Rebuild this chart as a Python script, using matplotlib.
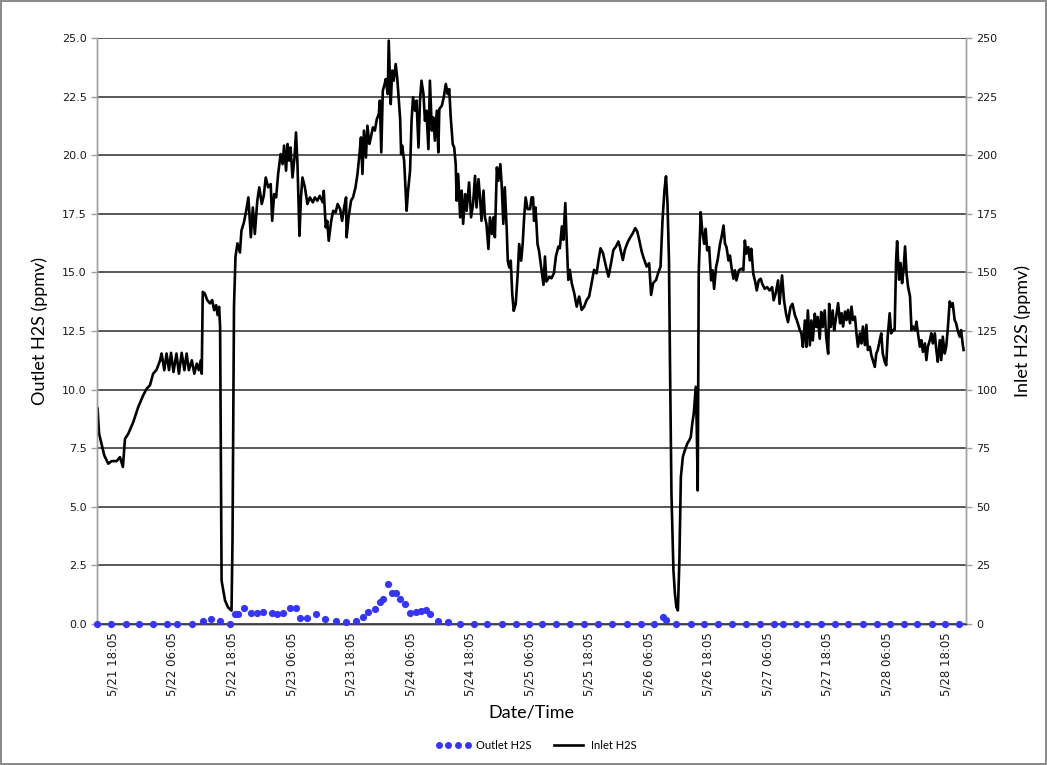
import matplotlib
matplotlib.use('Agg')
import matplotlib.pyplot as plt
from matplotlib.lines import Line2D
from matplotlib.ticker import FormatStrFormatter, MultipleLocator


# style setting
plt.rcParams['font.family'] = 'DejaVu Sans'
plt.rcParams['font.size'] = 8
plt.rcParams['axes.linewidth'] = 1.0

LABEL_FONT = 'Lato'
GRID_COLOR = '#3c3c3c'
DOT_COLOR = '#3535ff'

# hours after 5/21 18:05
tick_hours = [0, 12, 24, 36, 48, 60, 72, 84, 96, 108, 120, 132, 144, 156, 168]
tick_labels = ['5/21 18:05', '5/22 06:05', '5/22 18:05', '5/23 06:05',
               '5/23 18:05', '5/24 06:05', '5/24 18:05', '5/25 06:05',
               '5/25 18:05', '5/26 06:05', '5/26 18:05', '5/27 06:05',
               '5/27 18:05', '5/28 06:05', '5/28 18:05']

# outlet H2S, ppmv (left axis)
outlet_hours = [-3.2, -0.3, 2.6, 5.3, 8.1, 10.9, 13.0, 15.9, 18.1, 19.8,
                21.6, 23.5, 24.6, 25.3, 26.5, 27.8, 29.0, 30.3, 32.0, 33.0,
                34.2, 35.7, 36.9, 37.7, 39.1, 40.9, 42.7, 44.9, 47.0, 48.9,
                50.5, 51.5, 52.8, 53.8, 54.5, 55.5, 56.2, 57.1, 57.9, 58.9,
                59.9, 61.1, 62.2, 63.2, 64.0, 65.6, 67.6, 70.0, 72.8, 75.5,
                78.4, 81.2, 83.9, 86.6, 89.4, 92.1, 95.0, 97.8, 100.7, 103.6,
                106.4, 109.1, 110.8, 111.6, 113.6, 116.5, 119.2, 122.0, 124.9, 127.6,
                130.4, 133.3, 135.1, 137.8, 139.9, 142.7, 145.6, 148.2, 151.2, 154.0,
                156.7, 159.5, 162.2, 165.1, 167.7, 170.6]
outlet_ppmv = [0.0, 0.0, 0.0, 0.0, 0.0, 0.0, 0.0, 0.0, 0.14, 0.2,
               0.14, 0.0, 0.41, 0.41, 0.67, 0.48, 0.48, 0.53, 0.46, 0.43,
               0.46, 0.67, 0.67, 0.27, 0.24, 0.41, 0.21, 0.14, 0.1, 0.14,
               0.31, 0.53, 0.63, 0.95, 1.05, 1.71, 1.34, 1.34, 1.05, 0.85,
               0.48, 0.53, 0.57, 0.6, 0.41, 0.14, 0.1, 0.0, 0.0, 0.0,
               0.0, 0.0, 0.0, 0.0, 0.0, 0.0, 0.0, 0.0, 0.0, 0.0,
               0.0, 0.0, 0.3, 0.15, 0.0, 0.0, 0.0, 0.0, 0.0, 0.0,
               0.0, 0.0, 0.0, 0.0, 0.0, 0.0, 0.0, 0.0, 0.0, 0.0,
               0.0, 0.0, 0.0, 0.0, 0.0, 0.0]

# inlet H2S, ppmv (right axis)
inlet_hours = [
    -3.1, -2.8, -2.4, -1.75, -0.95, -0.27, 0.74, 1.41, 2.0, 2.42,
    3.09, 4.1, 5.1, 6.1, 6.8, 7.46, 8.1, 8.8, 9.5, 9.8,
    10.35, 10.8, 11.3, 11.7, 12.2, 12.8, 13.3, 13.85, 14.4, 14.85,
    15.3, 15.9, 16.4, 16.9, 17.3, 17.7, 17.9, 18.1, 18.5, 19.0,
    19.55, 20.0, 20.4, 20.8, 21.1, 21.4, 21.6, 21.7, 21.9, 22.6,
    23.2, 23.9, 24.1, 24.4, 24.7, 25.1, 25.6, 25.9, 26.4, 26.8,
    27.3, 27.8, 28.2, 28.6, 29.1, 29.5, 30.0, 30.4, 30.8, 31.3,
    31.8, 32.1, 32.5, 32.9, 33.3, 33.8, 34.2, 34.5, 34.9, 35.2,
    35.5, 35.8, 36.2, 36.6, 36.9, 37.2, 37.6, 37.9, 38.2, 38.7,
    39.2, 39.7, 40.3, 40.7, 41.2, 41.7, 42.3, 42.5, 42.9, 43.2,
    43.5, 44.0, 44.4, 44.9, 45.3, 45.8, 46.2, 46.6, 47.0, 47.1,
    47.5, 48.0, 48.4, 48.9, 49.3, 49.7, 50.0, 50.3, 50.6, 51.0,
    51.3, 51.7, 52.0, 52.4, 52.8, 53.2, 53.6, 53.8, 54.1, 54.4,
    54.7, 55.0, 55.4, 55.6, 56.0, 56.3, 56.6, 57.0, 57.3, 57.5,
    57.9, 58.1, 58.3, 58.7, 59.2, 59.5, 59.9, 60.2, 60.5, 60.9,
    61.2, 61.6, 61.9, 62.2, 62.6, 62.9, 63.2, 63.6, 63.9, 64.3,
    64.6, 64.9, 65.3, 65.6, 65.8, 66.3, 66.7, 67.1, 67.5, 67.8,
    68.1, 68.5, 68.8, 69.1, 69.3, 69.6, 70.0, 70.3, 70.6, 71.0,
    71.3, 71.8, 72.2, 72.6, 73.0, 73.3, 73.7, 74.0, 74.3, 74.7,
    75.0, 75.3, 75.7, 76.0, 76.4, 76.7, 77.0, 77.4, 77.7, 78.1,
    78.4, 78.7, 79.0, 79.4, 79.6, 79.9, 80.2, 80.5, 80.8, 81.2,
    81.6, 81.9, 82.3, 82.6, 82.9, 83.2, 83.6, 84.1, 84.4, 84.7,
    84.9, 85.2, 85.6, 85.9, 86.4, 86.8, 87.1, 87.4, 88.0, 88.4,
    88.9, 89.3, 89.8, 90.1, 90.5, 90.8, 91.2, 91.5, 91.8, 92.1,
    92.5, 93.0, 93.5, 94.0, 94.5, 95.0, 95.5, 96.0, 96.5, 97.0,
    97.5, 97.9, 98.3, 98.8, 99.4, 99.9, 100.3, 100.9, 101.4, 101.9,
    102.2, 102.8, 103.2, 103.7, 104.2, 104.8, 105.3, 105.7, 106.1, 106.6,
    107.0, 107.6, 108.1, 108.5, 108.9, 109.5, 109.9, 110.4, 110.8, 111.2,
    111.5, 111.8, 112.1, 112.3, 112.6, 113.0, 113.3, 113.6, 113.9, 114.2,
    114.5, 114.9, 115.3, 115.8, 116.2, 116.5, 116.8, 117.1, 117.5, 117.7,
    117.9, 118.1, 118.5, 118.8, 119.2, 119.5, 119.8, 120.2, 120.6, 120.9,
    121.2, 121.6, 121.9, 122.4, 122.7, 123.1, 123.4, 123.7, 124.1, 124.4,
    124.7, 125.1, 125.4, 125.7, 126.2, 126.7, 127.1, 127.4, 127.7, 128.1,
    128.4, 128.7, 129.1, 129.5, 129.8, 130.2, 130.6, 130.9, 131.4, 131.9,
    132.4, 132.9, 133.2, 133.6, 134.1, 134.4, 134.9, 135.3, 135.7, 136.1,
    136.6, 137.0, 137.5, 137.9, 138.5, 138.8, 139.1, 139.5, 139.8, 140.1,
    140.5, 140.8, 141.1, 141.5, 141.8, 142.1, 142.5, 142.8, 143.1, 143.5,
    143.8, 144.2, 144.4, 144.7, 145.1, 145.4, 145.7, 146.2, 146.6, 146.9,
    147.2, 147.6, 147.9, 148.2, 148.6, 148.9, 149.2, 149.6, 149.9, 150.2,
    150.6, 150.9, 151.2, 151.6, 151.9, 152.2, 152.6, 152.9, 153.2, 153.6,
    153.9, 154.2, 154.6, 154.9, 155.2, 155.6, 155.9, 156.2, 156.6, 156.9,
    157.3, 157.6, 157.9, 158.1, 158.5, 158.8, 159.1, 159.4, 159.7, 160.0,
    160.3, 160.7, 161.0, 161.3, 161.7, 162.0, 162.3, 162.7, 163.0, 163.3,
    163.7, 164.0, 164.3, 164.7, 165.0, 165.3, 165.7, 166.0, 166.3, 166.7,
    167.0, 167.3, 167.7, 168.0, 168.3, 168.7, 169.0, 169.3, 169.7, 170.0,
    170.3, 170.7, 171.0, 171.3, 171.5]
inlet_ppmv = [
    91.9, 81.2, 77.6, 71.9, 68.4, 69.5, 69.5, 71.2, 67.0, 79.0,
    81.2, 86.2, 92.6, 97.6, 100.4, 101.9, 106.8, 108.5, 112.5, 115.4,
    108.3, 115.4, 108.3, 115.7, 107.5, 115.4, 106.8, 115.7, 108.3, 115.4,
    108.3, 112.5, 106.8, 111.1, 108.3, 112.5, 106.8, 141.7, 141.0, 138.2,
    136.8, 138.2, 133.9, 136.0, 131.8, 135.3, 126.8, 92.6, 18.5, 10.0,
    7.1, 5.7, 35.6, 135.3, 156.7, 162.4, 158.5, 167.8, 171.3, 175.6,
    182.0, 165.0, 177.7, 166.4, 180.6, 186.3, 179.2, 182.7, 190.5, 186.3,
    187.7, 172.0, 183.4, 182.0, 192.0, 200.5, 196.2, 204.1, 193.4, 204.8,
    197.7, 203.3, 190.5, 199.0, 209.7, 196.2, 165.6, 182.0, 190.5, 186.3,
    179.2, 182.0, 179.9, 182.0, 180.6, 182.7, 179.9, 184.8, 169.2, 172.0,
    163.5, 172.0, 176.3, 175.6, 179.2, 177.0, 172.0, 177.7, 182.0, 165.0,
    173.5, 180.6, 182.0, 186.3, 192.0, 200.5, 207.6, 192.0, 210.5, 199.0,
    212.6, 204.8, 207.6, 211.9, 210.5, 215.4, 217.6, 223.3, 201.2, 227.5,
    229.7, 232.5, 226.1, 248.9, 221.8, 236.1, 231.8, 238.9, 233.2, 227.5,
    215.4, 200.5, 204.1, 197.7, 176.3, 184.9, 193.4, 214.7, 224.7, 219.0,
    223.3, 203.3, 223.3, 231.8, 226.1, 214.7, 219.0, 202.6, 231.8, 210.5,
    216.1, 206.2, 219.0, 201.2, 219.7, 221.1, 224.7, 230.4, 226.1, 228.2,
    216.1, 204.8, 203.3, 196.2, 180.6, 192.0, 173.5, 184.9, 170.7, 183.4,
    176.3, 188.4, 173.5, 179.2, 191.2, 177.7, 189.8, 182.0, 172.0, 184.9,
    173.5, 170.7, 160.0, 173.5, 166.4, 173.5, 165.0, 194.8, 189.1, 196.2,
    186.3, 170.7, 186.3, 167.8, 155.0, 152.1, 155.0, 140.8, 133.6, 136.5,
    149.3, 162.1, 155.0, 162.1, 173.5, 182.0, 177.0, 177.0, 182.0, 182.0,
    172.0, 177.7, 162.1, 159.2, 151.1, 144.7, 156.8, 146.1, 148.2, 147.5,
    149.6, 156.8, 161.0, 160.3, 169.6, 163.9, 179.6, 162.5, 146.8, 151.1,
    145.4, 141.1, 135.4, 139.7, 134.0, 135.4, 138.2, 139.7, 145.4, 151.1,
    149.6, 155.3, 160.3, 158.2, 152.5, 148.2, 152.5, 159.6, 161.0, 163.2,
    161.0, 155.3, 159.6, 162.5, 164.6, 166.7, 168.9, 167.5, 163.9, 158.9,
    156.1, 152.5, 153.9, 140.4, 145.4, 146.8, 149.6, 152.5, 172.4, 185.3,
    191.0, 179.6, 155.3, 112.6, 55.6, 22.9, 12.9, 7.2, 5.8, 27.2,
    62.8, 71.3, 74.1, 77.0, 78.4, 79.8, 85.5, 89.8, 101.2, 84.1,
    57.0, 150.0, 175.7, 167.9, 162.2, 168.6, 159.4, 160.8, 146.6, 150.9,
    143.0, 152.3, 155.1, 162.2, 165.1, 170.0, 162.2, 160.8, 155.1, 157.2,
    152.3, 147.3, 150.9, 146.6, 150.9, 151.6, 150.9, 163.6, 158.0, 160.8,
    155.1, 160.1, 149.4, 145.9, 142.3, 146.6, 147.3, 145.2, 143.0, 143.7,
    142.3, 143.7, 138.1, 140.9, 146.6, 136.6, 148.7, 138.1, 132.4, 128.8,
    135.2, 136.6, 131.7, 129.5, 125.3, 123.9, 118.2, 129.5, 118.2, 133.8,
    118.9, 129.5, 121.0, 132.4, 126.7, 131.0, 121.7, 133.1, 126.7, 133.8,
    122.4, 115.3, 136.6, 126.7, 133.8, 125.3, 129.5, 136.9, 128.3, 132.6,
    126.9, 133.3, 129.7, 134.0, 128.3, 135.4, 129.7, 131.1, 124.0, 118.3,
    124.0, 119.7, 126.9, 119.0, 127.6, 116.9, 118.3, 114.7, 112.6, 109.7,
    115.4, 116.9, 121.1, 124.0, 115.4, 111.9, 110.4, 122.6, 132.6, 124.0,
    125.4, 125.4, 155.4, 163.3, 146.9, 154.0, 145.4, 151.1, 161.1, 149.7,
    144.0, 139.7, 125.4, 126.9, 125.4, 129.0, 124.0, 118.3, 121.1, 116.1,
    119.7, 112.6, 118.3, 121.1, 124.0, 119.7, 124.0, 116.9, 111.9, 121.1,
    112.6, 122.6, 115.4, 118.3, 125.4, 137.6, 135.4, 136.9, 129.7, 128.3,
    125.4, 122.6, 125.4, 119.7, 116.9]


def plotFigure():
    fig = plt.figure(figsize=(10.47, 7.65), dpi=100)
    fig.patch.set_edgecolor('#8c8c8c')
    fig.patch.set_linewidth(1.5)

    ax = fig.add_axes([0.0926, 0.1843, 0.830, 0.766])
    ax2 = ax.twinx()
    # outlet dots sit above the inlet line and its grid
    ax.set_zorder(ax2.get_zorder() + 1)
    ax.patch.set_visible(False)

    ax.set_xlim(-3.23, 171.98)
    ax.set_ylim(0, 25)
    ax.yaxis.set_major_locator(MultipleLocator(2.5))
    ax.yaxis.set_major_formatter(FormatStrFormatter('%.1f'))
    ax.set_xticks(tick_hours)
    ax.set_xticklabels(tick_labels, rotation=90, fontsize=8.5)
    ax.tick_params(axis='x', length=0, pad=6, colors='#1a1a1a')
    ax.tick_params(axis='y', length=4, width=1, color='#a0a0a0',
                   labelsize=8, labelcolor='#1a1a1a')

    ax2.set_ylim(0, 250)
    ax2.yaxis.set_major_locator(MultipleLocator(25))
    ax2.grid(axis='y', color=GRID_COLOR, linewidth=1.2)
    ax2.set_axisbelow(True)
    ax2.tick_params(axis='y', length=4, width=1, color='#a0a0a0',
                    labelsize=8, labelcolor='#1a1a1a')

    for a in (ax, ax2):
        a.spines['top'].set_visible(False)
        a.spines['left'].set_color('#a0a0a0')
        a.spines['right'].set_color('#a0a0a0')
        a.spines['bottom'].set_color('#404040')

    ax2.plot(inlet_hours, inlet_ppmv, color='black', linewidth=1.9,
             solid_joinstyle='round', zorder=3)
    ax.plot(outlet_hours, outlet_ppmv, linestyle='none', marker='o',
            markersize=5.2, color=DOT_COLOR, markeredgewidth=0,
            clip_on=False, zorder=4)

    ax.set_ylabel('Outlet H2S (ppmv)', fontfamily=LABEL_FONT, fontsize=13,
                  labelpad=10)
    ax2.set_ylabel('Inlet H2S (ppmv)', fontfamily=LABEL_FONT, fontsize=13,
                   labelpad=12)
    ax.set_xlabel('Date/Time', fontfamily=LABEL_FONT, fontsize=13, labelpad=6)

    handles = [Line2D([], [], linestyle='none', marker='o', markersize=5,
                      color=DOT_COLOR, markeredgewidth=0),
               Line2D([], [], color='black', linewidth=1.9)]
    fig.legend(handles, ['Outlet H2S', 'Inlet H2S'], loc='center',
               bbox_to_anchor=(0.512, 0.026), ncol=2, frameon=False,
               numpoints=4, handlelength=3.2, handletextpad=0.4,
               columnspacing=1.8, prop={'family': LABEL_FONT, 'size': 8})

    fig.savefig('out.png', dpi=100)


def main():
    plotFigure()


if __name__ == '__main__':
    main()
